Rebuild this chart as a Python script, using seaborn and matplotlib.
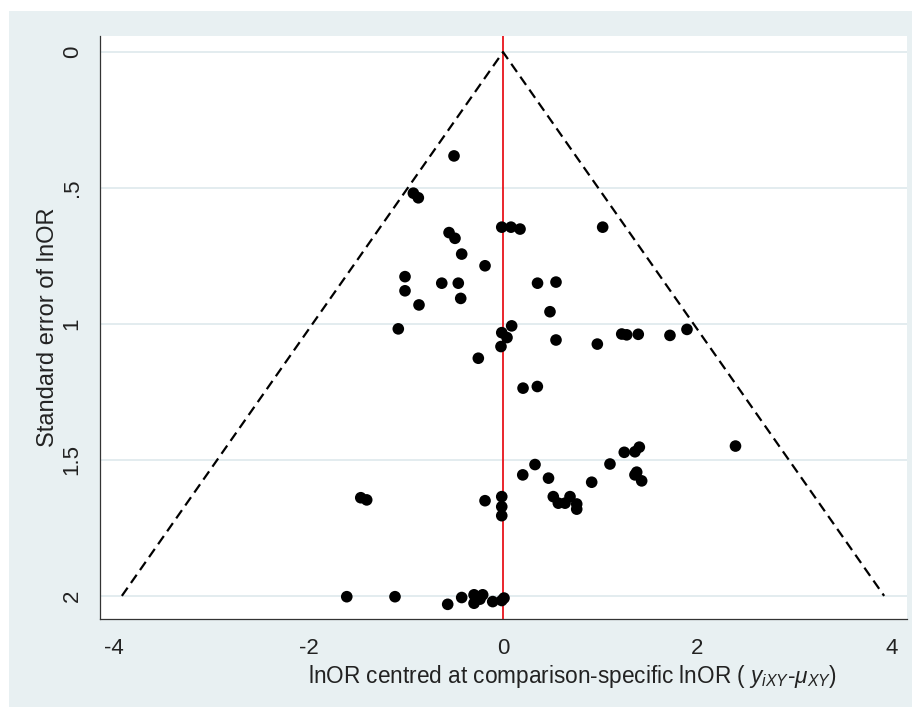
import numpy as np
import pandas as pd
import matplotlib
matplotlib.use("Agg")
import matplotlib.pyplot as plt
from matplotlib.patches import Rectangle
import seaborn as sns

# centred lnOR (x) and standard error (y)
centred_lnor = [
    -0.504, -0.922, -0.871, -0.013, 0.082, 0.175, -0.555, -0.494, -0.425, -0.185,
    -1.008, -0.630, -0.460, 0.355, 0.545, -1.008, -0.435, -0.864, -1.077, 0.483,
    -0.013, 0.089, 0.041, -0.021, -0.254, 0.206, 0.353, 0.545, 0.970, 1.025,
    1.221, 1.272, 1.391, 1.717, 1.892, 2.391, 0.203, 0.329, 0.468, 0.517,
    0.569, 0.638, 0.689, 0.758, 0.758, 0.912, 1.100, 1.247, 1.357, 1.402,
    1.357, 1.426, 1.375, -1.463, -1.402, -0.185, -0.013, -0.013, -0.013, -1.607,
    -1.111, -0.569, -0.425, -0.298, -0.209, -0.298, -0.237, -0.106, -0.013, 0.010,
]
se_lnor = [
    0.382, 0.519, 0.536, 0.644, 0.644, 0.651, 0.664, 0.685, 0.743, 0.786,
    0.826, 0.850, 0.850, 0.850, 0.846, 0.878, 0.906, 0.930, 1.018, 0.955,
    1.032, 1.007, 1.050, 1.083, 1.126, 1.236, 1.230, 1.059, 1.074, 0.644,
    1.037, 1.040, 1.038, 1.042, 1.020, 1.449, 1.555, 1.517, 1.567, 1.635,
    1.659, 1.659, 1.635, 1.662, 1.681, 1.582, 1.515, 1.472, 1.470, 1.453,
    1.555, 1.577, 1.545, 1.639, 1.647, 1.650, 1.635, 1.672, 1.705, 2.003,
    2.003, 2.031, 2.006, 1.996, 1.996, 2.027, 2.012, 2.021, 2.017, 2.008,
]

# pseudo 95% limits
funnel_se = [2.0, 0.0, 2.0]
funnel_side = [-1, 0, 1]
z95 = 1.96

x_ticks = [-4, -2, 0, 2, 4]
x_ticklabels = ["-4", "-2", "0", "2", "4"]
y_ticks = [0, 0.5, 1, 1.5, 2]
y_ticklabels = ["0", ".5", "1", "1.5", "2"]

bg = "#E8F0F2"
grid_col = "#E1EBEE"

sns.set_style("white")
plt.rcParams["font.family"] = ["Liberation Sans", "DejaVu Sans"]
plt.rcParams["mathtext.fontset"] = "custom"
plt.rcParams["mathtext.rm"] = "Liberation Sans"
plt.rcParams["mathtext.it"] = "Liberation Sans:italic"

df = pd.DataFrame({"x": centred_lnor, "se": se_lnor})
funnel = pd.DataFrame({"x": np.array(funnel_side) * z95 * np.array(funnel_se),
                       "se": funnel_se})

fig = plt.figure(figsize=(9.18, 7.07), dpi=100, facecolor="white")
fig.patches.append(Rectangle((9 / 918, 0), 903 / 918, 696 / 707,
                             transform=fig.transFigure, facecolor=bg,
                             edgecolor="none", zorder=-10))
ax = fig.add_axes([100 / 918, 1 - 619 / 707, 807 / 918, 583 / 707])
ax.set_facecolor("white")

for yv in y_ticks:
    ax.axhline(yv, color=grid_col, lw=1.3, zorder=1)
ax.axvline(0, color="#E8141B", lw=1.3, zorder=2)

sns.lineplot(data=funnel, x="x", y="se", sort=False, estimator=None,
             color="black", lw=1.6, ax=ax, zorder=3)
ax.lines[-1].set_dashes([4.5, 2.6])

sns.scatterplot(data=df, x="x", y="se", color="black", s=70,
                edgecolor="none", ax=ax, zorder=4)

ax.set_xlim(-4.145, 4.155)
ax.set_ylim(2.085, -0.059)

ax.set_xticks(x_ticks)
ax.set_xticklabels(x_ticklabels)
ax.set_yticks(y_ticks)
ax.set_yticklabels(y_ticklabels, rotation=90, va="center")
ax.tick_params(axis="both", direction="out", length=6.5, width=0.8,
               color="#333333", labelsize=16, labelcolor="#222222")
ax.tick_params(axis="x", pad=7)
ax.tick_params(axis="y", pad=6)

for side in ["top", "right"]:
    ax.spines[side].set_visible(False)
for side in ["left", "bottom"]:
    ax.spines[side].set_color("#333333")
    ax.spines[side].set_linewidth(0.9)

ax.set_xlabel(r"lnOR centred at comparison-specific lnOR ( $y_{iXY}$-$\mu_{XY}$)",
              fontsize=16.3, color="#222222", ha="left", va="center")
ax.xaxis.set_label_coords((308 - 100) / 807, (619 - 677) / 583)
ax.set_ylabel("Standard error of lnOR", fontsize=17, color="#222222",
              va="center")
ax.yaxis.set_label_coords((48 - 100) / 807, 0.5)

fig.savefig("out.png", dpi=100, facecolor=fig.get_facecolor())
